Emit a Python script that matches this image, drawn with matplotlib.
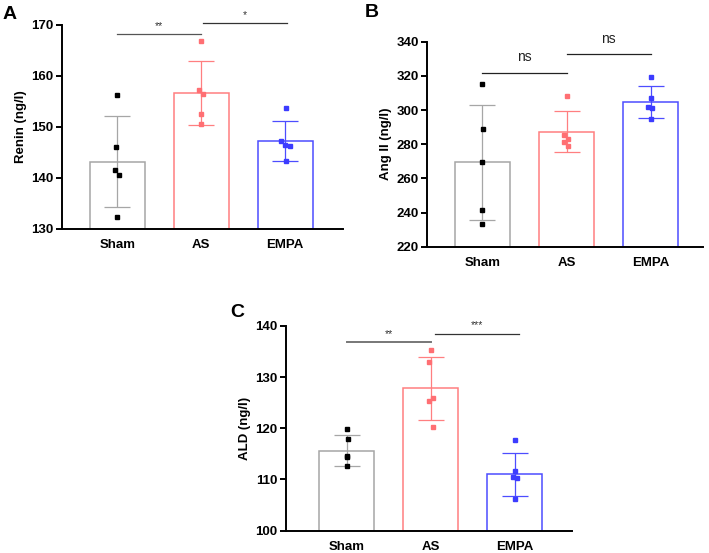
import numpy as np
import matplotlib
matplotlib.use("Agg")
import matplotlib.pyplot as plt

plt.rcParams['font.family'] = ['Liberation Sans', 'DejaVu Sans']
plt.rcParams['font.weight'] = 'bold'

groups = ['Sham', 'AS', 'EMPA']
bar_colors = ['#a6a6a6', '#ff7f80', '#4d4dff']
dot_colors = ['#000000', '#ff6f73', '#3c3cff']

# panel A: renin
renin_mean = [143.2, 156.6, 147.3]
renin_sd = [8.9, 6.3, 3.9]
renin_pts = [[156.3, 146.1, 141.5, 140.6, 132.3],
             [166.9, 157.2, 156.5, 152.5, 150.6],
             [153.7, 147.2, 146.5, 146.3, 143.3]]

# panel B: Ang II
ang_mean = [269.4, 287.3, 304.5]
ang_sd = [33.6, 12.0, 9.4]
ang_pts = [[315.0, 288.9, 269.8, 241.7, 233.3],
           [308.4, 285.6, 283.2, 281.3, 279.1],
           [319.3, 307.0, 301.8, 301.0, 294.5]]

# panel C: ALD
ald_mean = [115.6, 127.8, 111.0]
ald_sd = [3.0, 6.2, 4.2]
ald_pts = [[119.8, 118.0, 114.5, 114.3, 112.6],
           [135.3, 133.0, 125.9, 125.3, 120.2],
           [117.8, 111.7, 110.4, 110.2, 106.2]]

jitter = [[0.0, -0.01, -0.03, 0.02, 0.0],
          [0.0, -0.03, 0.025, 0.0, 0.0],
          [0.01, -0.05, 0.0, 0.055, 0.01]]
jitter_b = [[0.0, 0.01, 0.0, 0.0, -0.005],
            [0.0, -0.025, 0.02, -0.025, 0.02],
            [0.0, 0.0, -0.025, 0.02, 0.0]]


def draw_panel(ax, means, sds, pts, jit, ylim, yticks, ylabel, xlim, sig):
    x = np.arange(len(groups))
    for i in range(len(groups)):
        ax.bar(x[i], means[i] - ylim[0], bottom=ylim[0], width=0.655,
               facecolor='white', edgecolor=bar_colors[i], linewidth=1.1, zorder=2)
        ax.errorbar(x[i], means[i], yerr=sds[i], color=bar_colors[i],
                    capsize=9.5, elinewidth=0.9, capthick=0.9, zorder=3)
        ax.plot(x[i] + np.array(jit[i]), pts[i], 's', color=dot_colors[i],
                markersize=2.8, linestyle='none', zorder=4)
    ax.set_xlim(*xlim)
    ax.set_ylim(*ylim)
    ax.set_yticks(yticks)
    ax.set_xticks(x)
    ax.set_xticklabels(groups)
    ax.set_ylabel(ylabel, fontsize=9.5, fontweight='bold', labelpad=3)
    for s in ['top', 'right']:
        ax.spines[s].set_visible(False)
    for s in ['left', 'bottom']:
        ax.spines[s].set_linewidth(1.4)
    ax.tick_params(axis='y', labelsize=9.5, width=1.4, length=4, pad=2)
    ax.tick_params(axis='x', labelsize=9.5, length=0, pad=7.5)
    for x0, x1, yl, txt, col, lw in sig:
        ax.plot([x0, x1], [yl, yl], color=col, linewidth=lw, clip_on=False)
        if txt == 'ns':
            ax.annotate(txt, ((x0 + x1) / 2, yl), xytext=(0, 6), textcoords='offset points',
                        ha='center', va='bottom', fontsize=10, color='#222222',
                        fontweight='normal', annotation_clip=False)
        else:
            ax.annotate(txt, ((x0 + x1) / 2, yl), xytext=(0, 2.5), textcoords='offset points',
                        ha='center', va='bottom', fontsize=7.5, color='#333333',
                        fontweight='normal', annotation_clip=False)


fig = plt.figure(figsize=(7.09, 5.53), dpi=100)

axA = fig.add_axes([0.0874, 0.5859, 0.3963, 0.3694])
draw_panel(axA, renin_mean, renin_sd, renin_pts, jitter, (130, 170),
           [130, 140, 150, 160, 170], 'Renin (ng/l)', (-0.66, 2.69),
           [(0, 1, 168.1, '**', '#555555', 0.9), (1.02, 2.02, 170.3, '*', '#333333', 0.9)])

axB = fig.add_axes([0.6023, 0.5539, 0.3893, 0.3707])
draw_panel(axB, ang_mean, ang_sd, ang_pts, jitter_b, (220, 340),
           [220, 240, 260, 280, 300, 320, 340], 'Ang II (ng/l)', (-0.66, 2.625),
           [(0, 1, 321.9, 'ns', '#222222', 0.9), (1.0, 2.0, 332.6, 'ns', '#222222', 0.9)])

axC = fig.add_axes([0.4034, 0.0405, 0.4034, 0.370])
draw_panel(axC, ald_mean, ald_sd, ald_pts, jitter_b, (100, 140),
           [100, 110, 120, 130, 140], 'ALD (ng/l)', (-0.726, 2.68),
           [(0, 1, 136.8, '**', '#777777', 1.4), (1.05, 2.05, 138.5, '***', '#333333', 0.9)])

fig.text(0.003, 0.99, 'A', fontsize=14, fontweight='bold', va='top')
fig.text(0.515, 0.992, 'B', fontsize=14, fontweight='bold', va='top')
fig.text(0.325, 0.45, 'C', fontsize=14, fontweight='bold', va='top')

fig.savefig('out.png', dpi=100)
